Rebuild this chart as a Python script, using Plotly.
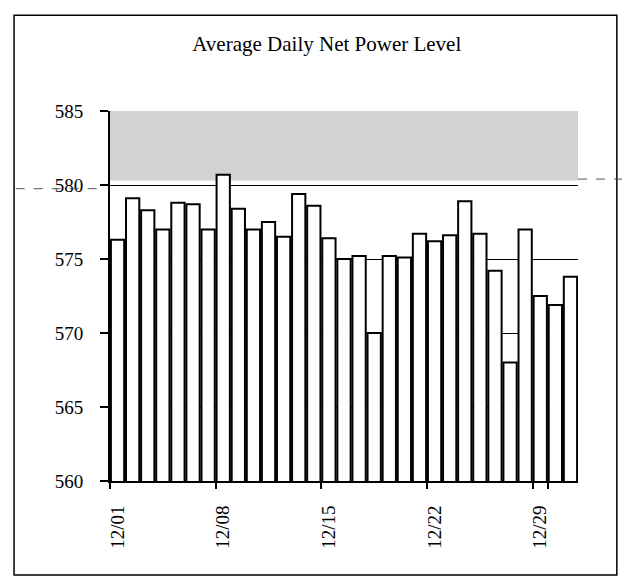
import plotly.graph_objects as go

days = [f"12/{d:02d}" for d in range(1, 32)]
power = [576.3, 579.1, 578.3, 577.0, 578.8, 578.7, 577.0, 580.7, 578.4, 577.0,
         577.5, 576.5, 579.4, 578.6, 576.4, 575.0, 575.2, 570.0, 575.2, 575.1,
         576.7, 576.2, 576.6, 578.9, 576.7, 574.2, 568.0, 577.0, 572.5, 571.9,
         573.8]
tick_labels = ["12/01", "12/08", "12/15", "12/22", "12/29"]
y_ticks = [560, 565, 570, 575, 580, 585]

fig = go.Figure()
fig.add_trace(go.Bar(
    x=days, y=power,
    marker=dict(color="white", line=dict(color="black", width=2)),
))

# scanned grey band at the top of the plot area
fig.add_shape(type="rect", xref="paper", yref="y", x0=0, x1=1, y0=580.3, y1=585,
              fillcolor="#d2d2d2", line=dict(width=0), layer="below")
# outer frame
fig.add_shape(type="rect", xref="paper", yref="paper", x0=-0.205, x1=1.083, y0=-0.254, y1=1.259,
              line=dict(color="black", width=1.5), fillcolor="rgba(0,0,0,0)")
# dashed scan line crossing the frame
fig.add_shape(type="line", xref="paper", yref="y", x0=-0.24, x1=-0.02, y0=579.75, y1=579.75,
              line=dict(color="#555555", width=1, dash="dash"))
fig.add_shape(type="line", xref="paper", yref="y", x0=1.0, x1=1.15, y0=580.4, y1=580.4,
              line=dict(color="#555555", width=1, dash="dash"))

fig.update_layout(
    width=630, height=576,
    margin=dict(l=102, r=60, t=103, b=103),
    paper_bgcolor="white", plot_bgcolor="white",
    showlegend=False,
    bargap=0.12,
    title=dict(text="Average Daily Net Power Level", x=0.506, xref="container", xanchor="center",
               y=1 - 36 / 576, yanchor="middle",
               font=dict(family="Liberation Serif", size=21, color="black")),
    font=dict(family="Liberation Serif", color="black"),
)
fig.update_yaxes(range=[560, 585], tickvals=y_ticks, ticks="outside", ticklen=8,
                 tickcolor="black", tickwidth=1.5, showline=True, linecolor="black", linewidth=2,
                 showgrid=True, gridcolor="black", gridwidth=1, ticklabelstandoff=13,
                 tickfont=dict(family="Liberation Serif", size=19, color="black"))
fig.update_xaxes(type="category", tickvals=tick_labels, ticktext=tick_labels,
                 tickangle=-90, ticks="outside", ticklen=6, tickcolor="black", tickwidth=1.5,
                 tickson="boundaries", ticklabelstandoff=15,
                 showline=True, linecolor="black", linewidth=2, showgrid=False,
                 tickfont=dict(family="Liberation Serif", size=19, color="black"))

fig.write_html("out.html")
